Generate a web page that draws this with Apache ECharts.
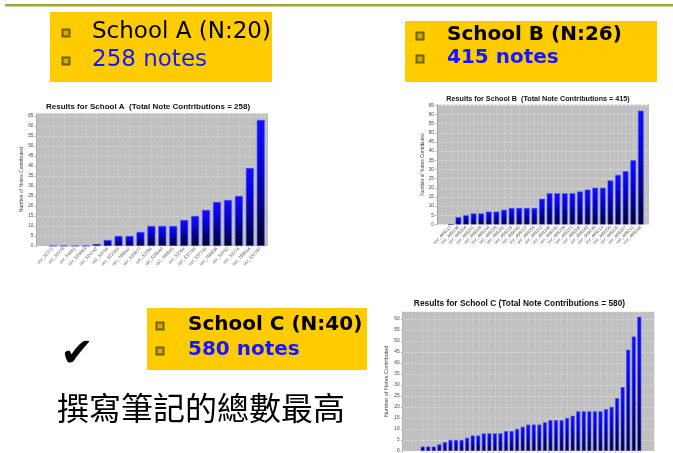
<!DOCTYPE html>
<html>
<head>
<meta charset="utf-8">
<script src="https://cdn.jsdelivr.net/npm/echarts@6/dist/echarts.min.js"></script>
<style>
  html, body { margin: 0; padding: 0; background: #ffffff; }
  #main { width: 673px; height: 453px; }
</style>
</head>
<body>
<div id="main"></div>
<script>
// ---- School A ----
const usersA = ['usr_52771', 'usr_53778', 'usr_54491', 'usr_524893', 'usr_524742', 'usr_53758',
  'usr_522333', 'usr_798842', 'usr_526677', 'usr_53794', 'usr_526040', 'usr_798045', 'usr_53764',
  'usr_537748', 'usr_537749', 'usr_798836', 'usr_53752', 'usr_53774', 'usr_798824', 'usr_537797'];
const notesA = [0, 0, 0, 0, 1, 3, 5, 5, 7, 10, 10, 10, 13, 15, 18, 22, 23, 25, 39, 63];

// ---- School B ----
const usersB = ['usr_489217', 'usr_489236', 'usr_489204', 'usr_489251', 'usr_489209', 'usr_489244',
  'usr_489233', 'usr_489262', 'usr_489218', 'usr_489240', 'usr_489227', 'usr_489255', 'usr_489212',
  'usr_489248', 'usr_489230', 'usr_489259', 'usr_489221', 'usr_489206', 'usr_489243', 'usr_489238',
  'usr_489214', 'usr_489250', 'usr_489225', 'usr_489257', 'usr_489211', 'usr_489246'];
const notesB = [0, 4, 5, 6, 6, 7, 7, 8, 9, 9, 9, 9, 14, 17, 17, 17, 17, 18, 19, 20, 20, 24, 27, 29, 35, 62];

// ---- School C ----
const usersC = ['usr_61201', 'usr_61214', 'usr_61227', 'usr_61233', 'usr_61208', 'usr_61245',
  'usr_61219', 'usr_61252', 'usr_61236', 'usr_61204', 'usr_61241', 'usr_61229', 'usr_61217',
  'usr_61258', 'usr_61222', 'usr_61249', 'usr_61211', 'usr_61238', 'usr_61206', 'usr_61255',
  'usr_61231', 'usr_61243', 'usr_61215', 'usr_61260', 'usr_61224', 'usr_61247', 'usr_61209',
  'usr_61235', 'usr_61251', 'usr_61218', 'usr_61240', 'usr_61203', 'usr_61256', 'usr_61226',
  'usr_61244', 'usr_61212', 'usr_61239', 'usr_61221', 'usr_61253', 'usr_61230'];
const notesC = [2, 2, 2, 3, 4, 5, 5, 5, 6, 7, 7, 8, 8, 8, 8, 9, 9, 10, 11, 12, 12, 12, 13, 14, 14,
  14, 15, 16, 18, 18, 18, 18, 18, 19, 20, 24, 29, 46, 52, 61];

const chartTitles = [
  'Results for School A  (Total Note Contributions = 258)',
  'Results for School B  (Total Note Contributions = 415)',
  'Results for School C (Total Note Contributions = 580)'
];
const yAxisTitle = 'Number of Notes Contributed';

// Layout of each small chart: plot frame, inner band for the bars, axis ceiling
const panels = [
  { users: usersA, notes: notesA, title: chartTitles[0], titleX: 148, titleY: 107, titleSize: 8,
    frame: [36.5, 113.3, 231.5, 132.7], barsLeft: 47.5, barsWidth: 218.7, max: 66.35, gap: '28%', nameGap: 12, nameSize: 5 },
  { users: usersB, notes: notesB, title: chartTitles[1], titleX: 538, titleY: 99, titleSize: 7.2,
    frame: [437, 104.5, 212, 120], barsLeft: 447, barsWidth: 197.6, max: 65.4, gap: '26%', nameGap: 12, nameSize: 4.8 },
  { users: usersC, notes: notesC, title: chartTitles[2], titleX: 519.5, titleY: 304, titleSize: 8.4,
    frame: [402.7, 311.7, 251.6, 139.3], barsLeft: 419.9, barsWidth: 222.2, max: 63.3, gap: '30%', nameGap: 13, nameSize: 5.5 }
];

const barGradient = {
  type: 'linear', x: 0, y: 0, x2: 0, y2: 1,
  colorStops: [{ offset: 0, color: '#0f0fff' }, { offset: 0.35, color: '#0505d8' }, { offset: 1, color: '#000026' }]
};

const grid = [], xAxis = [], yAxis = [], series = [], graphic = [];

panels.forEach((p, i) => {
  const [fl, ft, fw, fh] = p.frame;
  const gFrame = i * 2, gBars = i * 2 + 1;
  grid.push({ left: fl, top: ft, width: fw, height: fh, show: true, backgroundColor: '#c0c0c0', borderWidth: 0,
    containLabel: false, outerBoundsMode: 'none' });
  grid.push({ left: p.barsLeft, top: ft, width: p.barsWidth, height: fh, show: false,
    containLabel: false, outerBoundsMode: 'none' });

  xAxis.push({ gridIndex: gFrame, type: 'value', show: false });
  xAxis.push({
    gridIndex: gBars, type: 'category', data: p.users, boundaryGap: true,
    axisLine: { show: false }, axisTick: { show: false },
    axisLabel: { interval: 0, rotate: 45, fontSize: 4.5, color: '#555', margin: 2, fontFamily: 'Liberation Sans' },
    splitLine: { show: true, alignWithLabel: true, lineStyle: { color: 'rgba(255,255,255,0.28)', type: [2, 2], width: 1 } }
  });

  yAxis.push({
    gridIndex: gFrame, type: 'value', min: 0, max: p.max, interval: 5,
    name: yAxisTitle, nameLocation: 'middle', nameGap: p.nameGap, nameRotate: 90,
    nameTextStyle: { fontSize: p.nameSize, color: '#444', fontFamily: 'Liberation Sans' },
    axisLine: { show: true, lineStyle: { color: '#8c8c8c', width: 0.6 } },
    axisTick: { show: true, length: 2, lineStyle: { color: '#8c8c8c', width: 0.6 } },
    axisLabel: { fontSize: 4.8, color: '#444', margin: 3, showMaxLabel: false, fontFamily: 'Liberation Sans' },
    splitLine: { show: true, lineStyle: { color: 'rgba(255,255,255,0.45)', type: [2, 2], width: 1 } }
  });
  yAxis.push({ gridIndex: gBars, type: 'value', min: 0, max: p.max, interval: 5, show: false, splitLine: { show: false } });

  series.push({
    type: 'bar', xAxisIndex: gBars, yAxisIndex: gBars, data: p.notes,
    barCategoryGap: p.gap, silent: true, animation: false,
    itemStyle: { color: barGradient, borderColor: '#4a4aff', borderWidth: 0.6 }
  });

  graphic.push({
    type: 'text', x: p.titleX, y: p.titleY, silent: true,
    style: { text: p.title, fill: '#111', font: 'bold ' + p.titleSize + 'px "Liberation Sans", Arial, sans-serif',
      textAlign: 'center', textVerticalAlign: 'middle' }
  });
});

// ---- Slide decorations: rule, yellow call-outs, check mark, caption ----
const boxColor = '#ffcc00';
const blueText = '#1616ff';
const calloutA = ['School A (N:20)', '258 notes'];
const calloutB = ['School B (N:26)', '415 notes'];
const calloutC = ['School C (N:40)', '580 notes'];
const caption = '撰寫筆記的總數最高';

function bullet(cx, cy) {
  return { type: 'rect', shape: { x: cx - 3.5, y: cy - 3.5, width: 7, height: 7 }, silent: true,
    style: { fill: '#d4ac00', stroke: '#6b6400', lineWidth: 2 } };
}
function label(text, x, y, size, bold, color) {
  return { type: 'text', x: x, y: y, silent: true,
    style: { text: text, fill: color, font: (bold ? 'bold ' : '') + size + 'px "DejaVu Sans", Verdana, sans-serif',
      textAlign: 'left', textVerticalAlign: 'middle' } };
}

graphic.push(
  { type: 'rect', shape: { x: 5, y: 4, width: 668, height: 2.5 }, silent: true, style: { fill: '#a3a13a' } },

  { type: 'rect', shape: { x: 50, y: 12, width: 222, height: 70 }, silent: true, style: { fill: boxColor } },
  bullet(66, 33), bullet(66, 61),
  label(calloutA[0], 92, 32, 23, false, '#000'),
  label(calloutA[1], 92, 60, 23, false, blueText),

  { type: 'rect', shape: { x: 405, y: 21, width: 252, height: 61 }, silent: true, style: { fill: boxColor } },
  bullet(420, 36), bullet(420, 59),
  label(calloutB[0], 447, 35, 20, true, '#000'),
  label(calloutB[1], 447, 58, 20, true, blueText),

  { type: 'rect', shape: { x: 147, y: 308, width: 220, height: 62 }, silent: true, style: { fill: boxColor } },
  bullet(160, 326), bullet(160, 351),
  label(calloutC[0], 188, 325, 20, true, '#000'),
  label(calloutC[1], 188, 350, 20, true, blueText),

  { type: 'text', x: 77, y: 356, silent: true,
    style: { text: '✔', fill: '#000', font: '40px "DejaVu Sans", sans-serif', textAlign: 'center', textVerticalAlign: 'middle' } },
  { type: 'text', x: 57, y: 408, silent: true,
    style: { text: caption, fill: '#000', font: '32px "Noto Sans CJK TC", sans-serif', textAlign: 'left', textVerticalAlign: 'middle' } }
);

const chart = echarts.init(document.getElementById('main'), null, { renderer: 'canvas' });
chart.setOption({
  animation: false,
  backgroundColor: '#ffffff',
  grid: grid,
  xAxis: xAxis,
  yAxis: yAxis,
  series: series,
  graphic: graphic
});
</script>
</body>
</html>
